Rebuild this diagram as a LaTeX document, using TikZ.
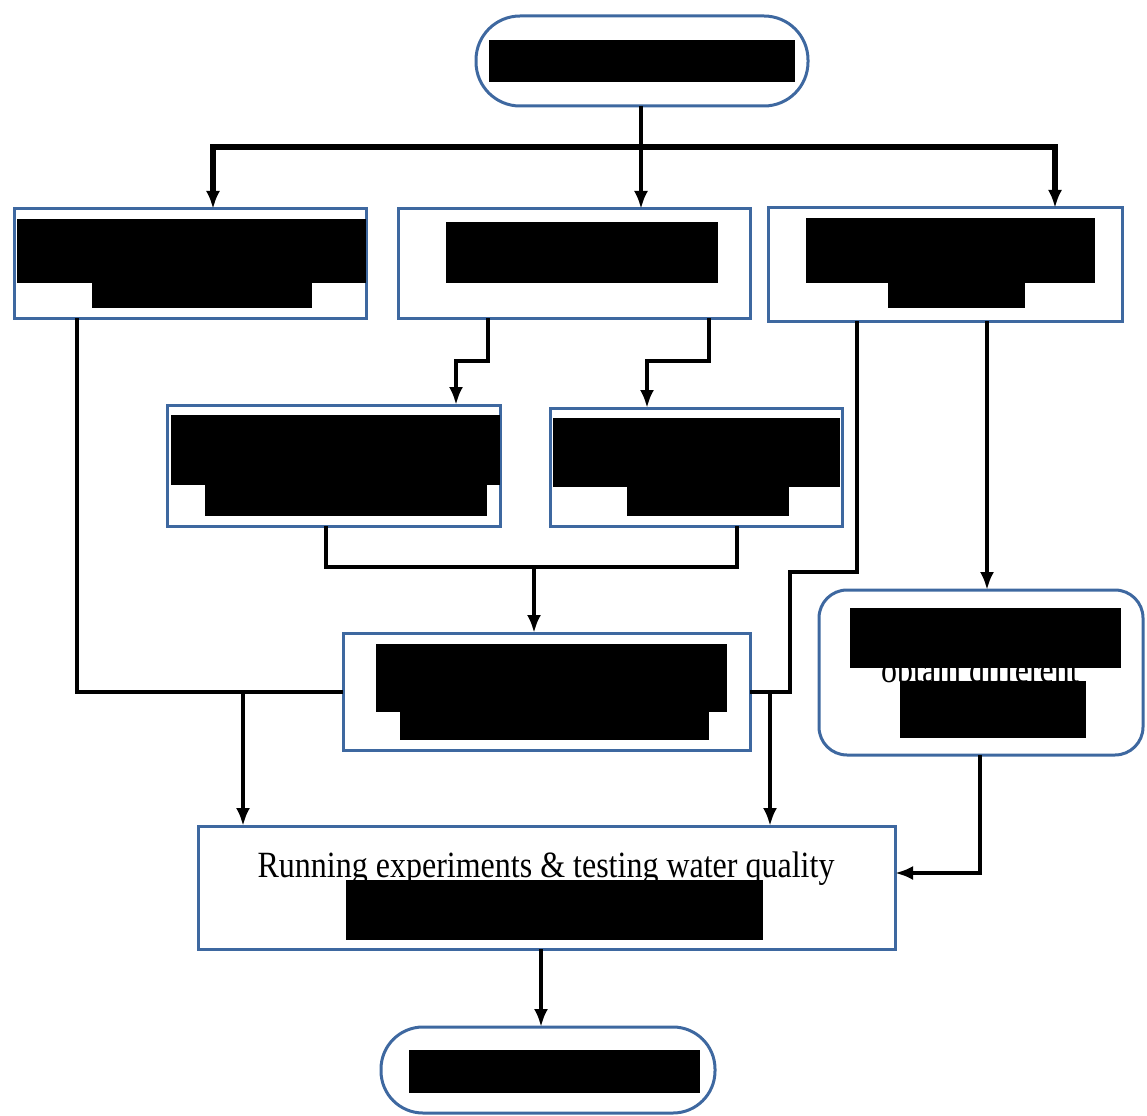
\documentclass[tikz,border=0pt]{standalone}
\usepackage{graphicx}
\usepackage{fontspec}
\setmainfont{Liberation Serif}
\usetikzlibrary{arrows.meta}
\definecolor{boxblue}{RGB}{62,104,160}
\begin{document}
\begin{tikzpicture}[x=1pt,y=-1pt,
  box/.style={draw=boxblue,line width=3pt,inner sep=0pt,outer sep=0pt,rectangle},
  conn/.style={draw=black,line width=4pt},
  arr/.style={conn,-{Latex[length=18pt,width=14pt]}},
  redact/.style={fill=black},
  lbl/.style={font=\fontsize{37}{40}\selectfont,inner sep=0pt,anchor=base}]
\useasboundingbox (0,0) rectangle (1147,1115);
% boxes
\node[box,rounded corners=44pt,minimum width=332,minimum height=90] (T) at (642,61) {};
\node[box,minimum width=352,minimum height=109] (A) at (190,263.5) {};
\node[box,minimum width=352,minimum height=109] (B) at (574,263.5) {};
\node[box,minimum width=354,minimum height=113] (C) at (945,264.5) {};
\node[box,minimum width=333,minimum height=121] (D1) at (333.5,465.5) {};
\node[box,minimum width=292,minimum height=118] (D2) at (696,467) {};
\node[box,minimum width=407,minimum height=117] (E) at (546.5,691.5) {};
\node[box,rounded corners=28pt,minimum width=324,minimum height=165] (G) at (981,672.5) {};
\node[box,minimum width=697,minimum height=123] (F) at (546.5,887.5) {};
\node[box,rounded corners=42pt,minimum width=334,minimum height=86] (H) at (548,1070) {};
% texts
\node[lbl] (ftext) at (546,877) {\scalebox{0.865}[1]{Running experiments \& testing water quality}};
\node[lbl] (gtext) at (980,682) {\scalebox{0.865}[1]{obtain different}};
% redaction blocks
\fill[redact] (489,40) rectangle (795,82);
\fill[redact] (17,219) rectangle (366,283);
\fill[redact] (92,283) rectangle (312,308);
\fill[redact] (446,222) rectangle (718,283);
\fill[redact] (806,218) rectangle (1095,283);
\fill[redact] (888,283) rectangle (1025,308);
\fill[redact] (171,415) rectangle (500,485);
\fill[redact] (205,485) rectangle (487,516);
\fill[redact] (553,418) rectangle (840,487);
\fill[redact] (627,487) rectangle (789,516);
\fill[redact] (376,644) rectangle (727,712);
\fill[redact] (400,712) rectangle (709,740);
\fill[redact] (850,608) rectangle (1121,668);
\fill[redact] (900,681) rectangle (1086,738);
\fill[redact] (346,880) rectangle (763,940);
\fill[redact] (409,1050) rectangle (700,1093);
% junction coordinates
\coordinate (j1) at (641,147);
\coordinate (j2) at (E.west -| 243,0);
\coordinate (j3) at (534,567);
\coordinate (j4) at (E.east -| 770,0);
\coordinate (j5) at (790,572);
% connectors
\draw[conn] (T.south -| j1) -- (j1);
\draw[arr,line width=5.5pt] (j1) -| (A.north -| 213,0);
\draw[arr,line width=5.5pt] (j1) -| (C.north -| 1055,0);
\draw[arr] (j1) -- (B.north -| j1);
\draw[conn] (A.south -| 77,0) |- (E.west);
\draw[arr] (j2) -- (F.north -| j2);
\draw[arr] (B.south -| 488,0) -- ++(0,43) -| (D1.north -| 456,0);
\draw[arr] (B.south -| 709,0) -- ++(0,43) -| (D2.north -| 647,0);
\draw[conn] (D1.south -| 326,0) |- (j3);
\draw[conn] (D2.south -| 737,0) |- (j3);
\draw[arr] (j3) -- (E.north -| j3);
\draw[conn] (C.south -| 857,0) |- (j5) |- (E.east);
\draw[arr] (j4) -- (F.north -| j4);
\draw[arr] (C.south -| 987,0) -- (G.north -| 987,0);
\draw[arr] (G.south -| 980,0) |- (F.east |- 0,873);
\draw[arr] (F.south -| 541,0) -- (H.north -| 541,0);
\end{tikzpicture}
\end{document}
